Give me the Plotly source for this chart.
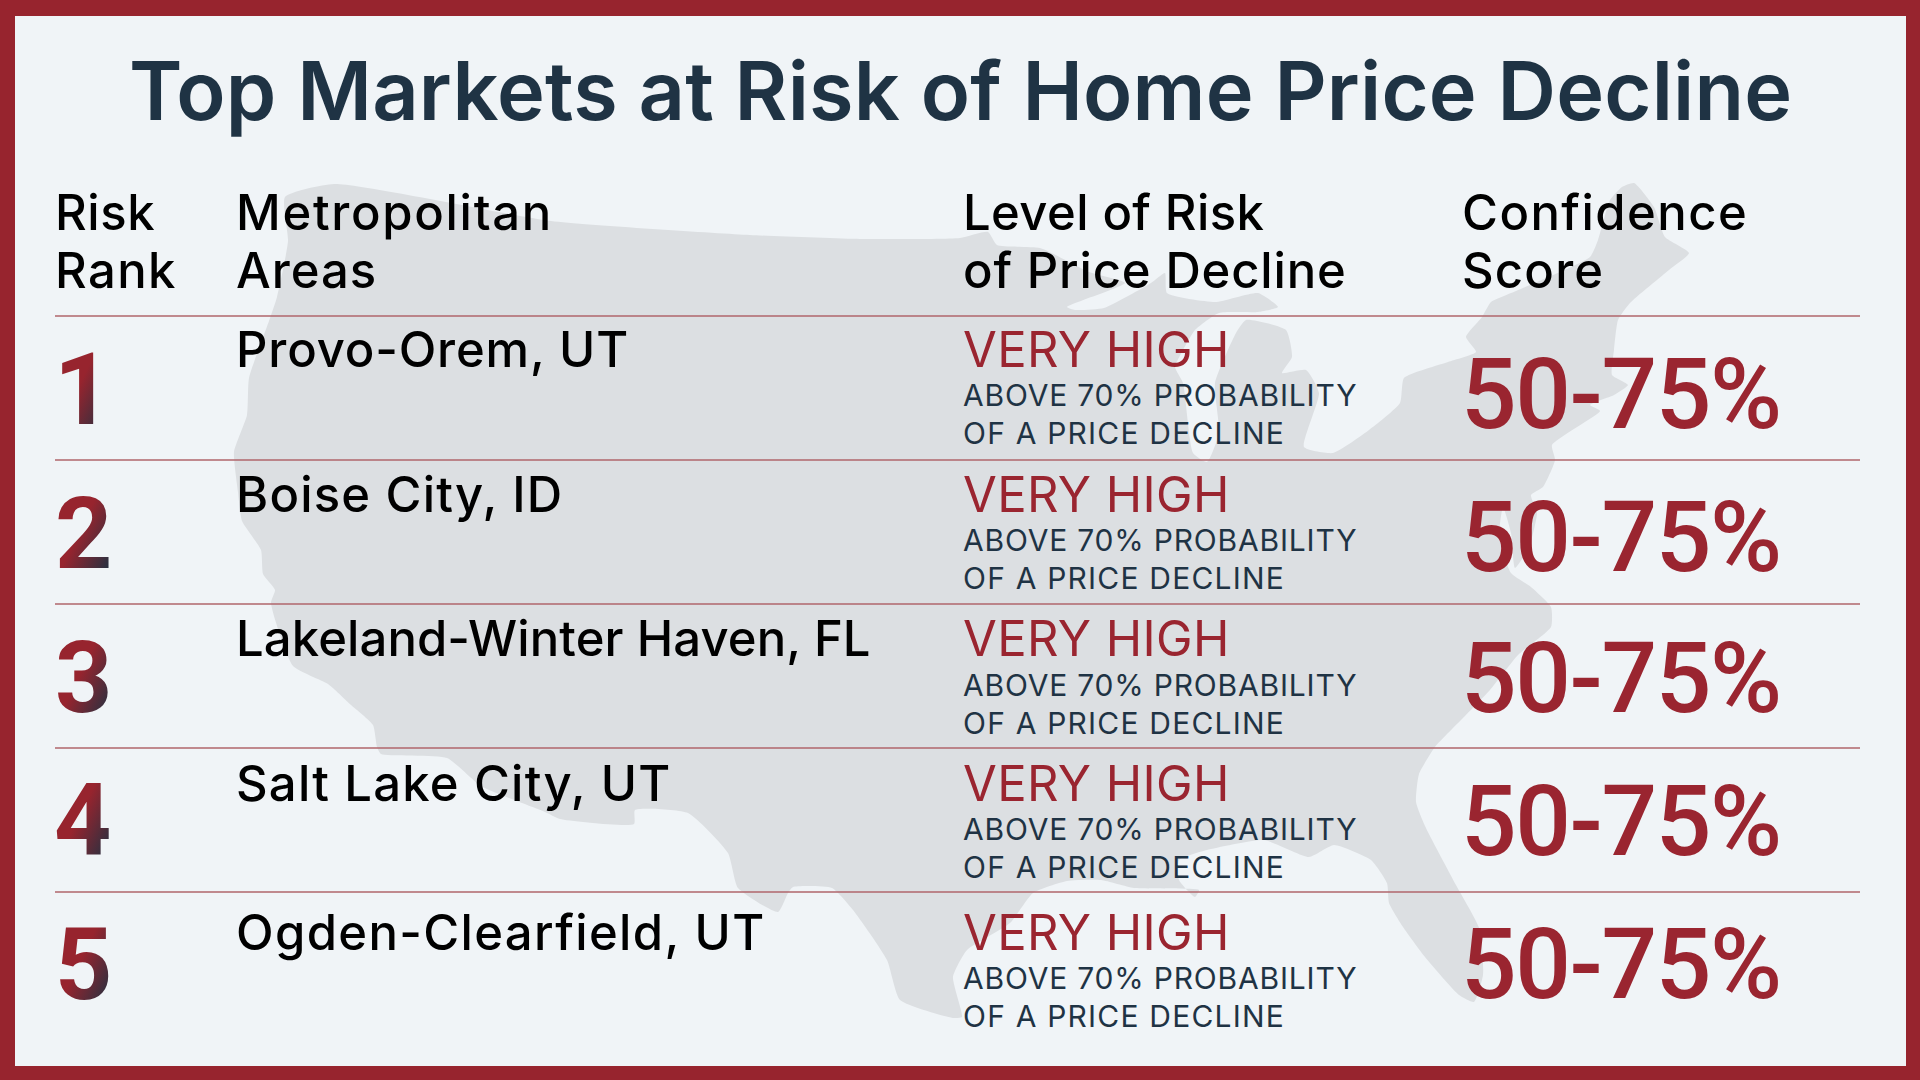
"""Top markets at risk of home price decline: table card over a US silhouette."""

import json

import plotly.graph_objects as go

_BORDER = "#97242e"
_BG = "#f0f4f7"
_MAP = "#dcdfe2"
_NAVY = "#1f3344"
_RED = "#9a2530"
_RULE = "#b0666b"
_TEXT_FONT = "Inter"
_NUM_FONT = "Roboto"
_DESCENT = {"Inter": 0.242, "Roboto": 0.244}

TITLE = "Top Markets at Risk of Home Price Decline"
HEADERS = [
    ["Risk", "Rank"],
    ["Metropolitan", "Areas"],
    ["Level of Risk", "of Price Decline"],
    ["Confidence", "Score"],
]
RANKS = ["1", "2", "3", "4", "5"]
METROS = [
    "Provo-Orem, UT",
    "Boise City, ID",
    "Lakeland-Winter Haven, FL",
    "Salt Lake City, UT",
    "Ogden-Clearfield, UT",
]
LEVELS = ["VERY HIGH"] * 5
LEVEL_NOTE = ["ABOVE 70% PROBABILITY", "OF A PRICE DECLINE"]
SCORES = ["50-75%"] * 5

# US outline, in pixels of the 1920x1080 image
MAP_X = [
    334, 285, 288, 277, 269, 249, 247, 234, 238, 242, 261, 263, 275, 271, 293, 328, 351, 373, 377, 381,
    447, 481, 545, 560, 634, 635, 688, 728, 738, 778, 788, 793, 832, 853, 887, 900, 953, 962, 953, 967,
    1010, 1033, 1067, 1101, 1134, 1199, 1195, 1179, 1179, 1207, 1264, 1309, 1334, 1371, 1387, 1389, 1403,
    1425, 1459, 1474, 1483, 1480, 1456, 1425, 1416, 1419, 1435, 1465, 1490, 1518, 1551, 1551, 1531, 1511,
    1499, 1503, 1511, 1515, 1529, 1537, 1531, 1543, 1555, 1552, 1600, 1590, 1614, 1628, 1612, 1614, 1618,
    1630, 1669, 1689, 1665, 1654, 1634, 1622, 1610, 1598, 1590, 1511, 1491, 1482, 1466, 1476, 1448, 1404,
    1400, 1369, 1333, 1304, 1319, 1306, 1282, 1292, 1286, 1246, 1236, 1215, 1219, 1207, 1193, 1183, 1175,
    1183, 1195, 1219, 1258, 1278, 1258, 1215, 1167, 1165, 1151, 1104, 1075, 1067, 1125, 1089, 1040, 997,
    988, 960, 860, 750, 551, 334,
]
MAP_Y = [
    184, 197, 241, 297, 321, 378, 415, 452, 492, 521, 550, 574, 590, 603, 666, 684, 705, 725, 747, 754,
    758, 786, 812, 819, 824, 810, 813, 853, 888, 912, 893, 887, 888, 910, 960, 1000, 1018, 1017, 977, 950,
    923, 893, 881, 880, 888, 890, 897, 880, 860, 850, 840, 857, 845, 860, 883, 903, 927,
    957, 995, 1002, 975, 930, 885, 826, 802, 774, 747, 716, 690, 655, 627, 607, 587, 573,
    537, 507, 533, 568, 547, 513, 495, 487, 460, 445, 411, 405, 395, 385, 375, 350, 320,
    303, 270, 253, 237, 207, 183, 187, 200, 240, 257, 293, 302, 317, 337, 352, 362, 378,
    403, 430, 453, 447, 393, 370, 373, 357, 330, 320, 333, 383, 433, 462, 453, 383, 367,
    350, 330, 313, 312, 307, 293, 302, 293, 273, 283, 308, 310, 307, 283, 272, 248, 245,
    232, 238, 239, 235, 221, 184,
]

RULES_Y = [316, 460, 604, 748, 892]
ROW_BASE = [367, 512, 656.5, 801, 950]
SCORE_BASE = [428, 571, 712, 855.5, 998.5]
RANK_BASE = [424, 568, 712, 855, 998.5]

# plotly has no letter spacing, the CSS is set after drawing (px per character)
SPACING = {
    TITLE: 0.2,
    "Risk": 0.6,
    "Rank": 1.4,
    "Metropolitan": 1.7,
    "Areas": 1.0,
    "Level of Risk": 0.4,
    "of Price Decline": 0.85,
    "Confidence": 1.45,
    "Score": 1.2,
    "VERY HIGH": 0.4,
    LEVEL_NOTE[0]: 0.8,
    LEVEL_NOTE[1]: 1.2,
    "50-75%": -1.4,
    METROS[0]: 0.85,
    METROS[1]: 1.2,
    METROS[2]: 0.1,
    METROS[3]: 1.2,
    METROS[4]: 1.35,
}

fig = go.Figure()

fig.add_trace(
    go.Scatter(
        x=MAP_X,
        y=MAP_Y,
        mode="lines",
        fill="toself",
        fillcolor=_MAP,
        line=dict(color=_MAP, width=0, shape="spline", smoothing=0.5),
        hoverinfo="skip",
        showlegend=False,
    )
)


def label(x, base, text, size, color, weight=400, font=_TEXT_FONT):
    # y is the text baseline; box bottom sits one descent below it
    fig.add_annotation(
        x=x,
        y=base + _DESCENT[font] * size,
        xref="x",
        yref="y",
        text=text,
        showarrow=False,
        xanchor="left",
        yanchor="bottom",
        align="left",
        borderpad=0,
        borderwidth=0,
        font=dict(family=font, size=size, color=color, weight=weight),
    )


for rank, base, x in zip(RANKS, RANK_BASE, [54, 55, 55, 54, 55]):
    label(x, base, rank, 100, _RED, weight=700, font=_NUM_FONT)

label(129, 120, TITLE, 81, _NAVY, weight=600)

for x, lines in zip([55, 236, 963, 1462], HEADERS):
    label(x, 230, lines[0], 49, "#000000", weight=500)
    label(x, 288, lines[1], 49, "#000000", weight=500)

for metro, level, score, base, score_base in zip(METROS, LEVELS, SCORES, ROW_BASE, SCORE_BASE):
    label(236, base, metro, 49, "#000000", weight=500)
    label(963, base, level, 49, _RED)
    label(963, base + 39, LEVEL_NOTE[0], 30, _NAVY)
    label(963, base + 77, LEVEL_NOTE[1], 30, _NAVY)
    label(1461, score_base, score, 98, _RED, weight=500, font=_NUM_FONT)

for y in RULES_Y:
    fig.add_shape(type="line", x0=55, x1=1860, y0=y, y1=y, xref="x", yref="y", line=dict(color=_RULE, width=1.5))

fig.update_layout(
    width=1920,
    height=1080,
    margin=dict(l=15, r=14, t=16, b=14),
    paper_bgcolor=_BORDER,
    plot_bgcolor=_BG,
    showlegend=False,
    font=dict(family=_TEXT_FONT),
    xaxis=dict(range=[15, 1906], visible=False, fixedrange=True),
    yaxis=dict(range=[1066, 16], visible=False, fixedrange=True),
)

# annotations have no gradient fill, so the rank digits get one here
POST = """
document.body.style.margin = '0';
var spacing = %s;
document.querySelectorAll('text.annotation-text').forEach(function (t) {
  var s = spacing[t.textContent];
  if (s) t.style.letterSpacing = s + 'px';
  if (!/^[1-5]$/.test(t.textContent)) return;
  var svg = t.ownerSVGElement;
  if (!svg.querySelector('#rankfade')) {
    var ns = 'http://www.w3.org/2000/svg';
    var g = document.createElementNS(ns, 'linearGradient');
    g.setAttribute('id', 'rankfade');
    g.setAttribute('x1', '0'); g.setAttribute('y1', '0');
    g.setAttribute('x2', '1'); g.setAttribute('y2', '1');
    [['0.45', '#97242e'], ['0.85', '#2b3040']].forEach(function (s) {
      var st = document.createElementNS(ns, 'stop');
      st.setAttribute('offset', s[0]); st.setAttribute('stop-color', s[1]);
      g.appendChild(st);
    });
    var d = document.createElementNS(ns, 'defs');
    d.appendChild(g);
    svg.insertBefore(d, svg.firstChild);
  }
  t.style.fill = 'url(#rankfade)';
});
""" % json.dumps(SPACING)

fig.write_html("out.html", post_script=POST, config={"displayModeBar": False})
